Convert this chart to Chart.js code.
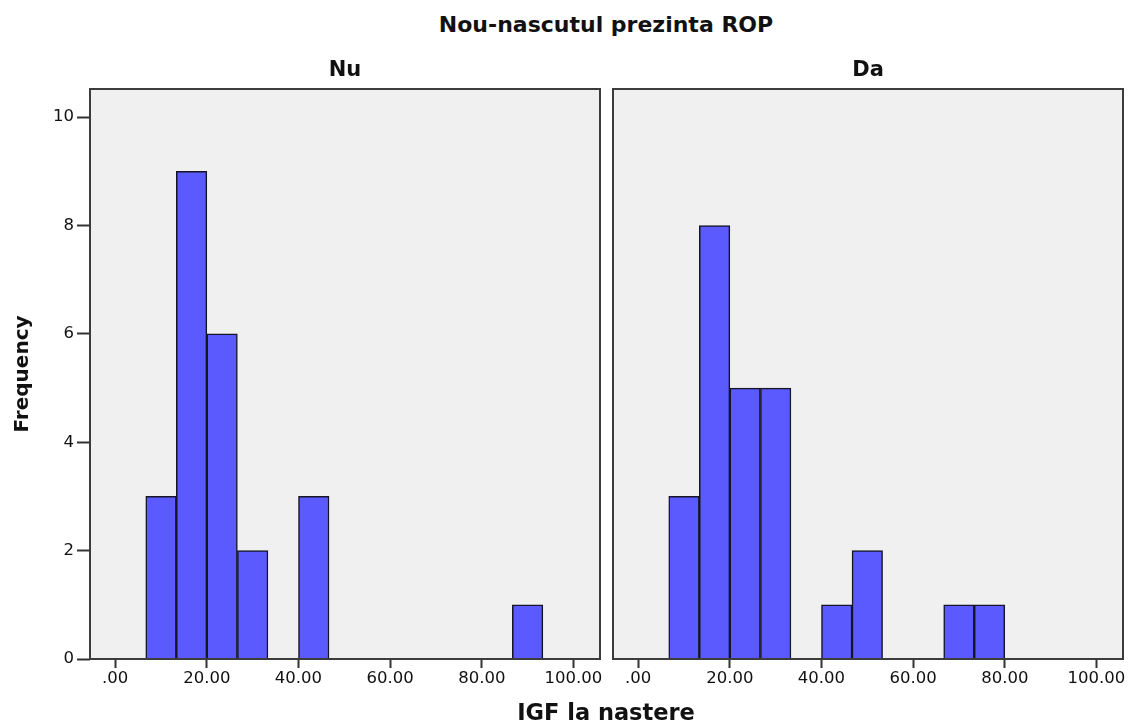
<!DOCTYPE html>
<html>
<head>
<meta charset="utf-8">
<script src="https://cdn.jsdelivr.net/npm/chart.js@4.4.1/dist/chart.umd.min.js"></script>
<style>
  html, body { margin: 0; padding: 0; background: #fff; }
  #wrap { position: relative; width: 1130px; height: 722px; overflow: hidden; font-family: "DejaVu Sans", sans-serif; }
  #cL { position: absolute; left: 0; top: 0; }
  #cR { position: absolute; left: 606px; top: 0; }
  .t { position: absolute; left: 606px; transform: translateX(-50%); font-weight: bold; color: #111; white-space: nowrap; }
  #mainTitle { top: 11px; font-size: 22px; line-height: 28px; }
  #xTitle { top: 698px; font-size: 22.5px; line-height: 28px; }
</style>
</head>
<body>
<div id="wrap">
  <div id="mainTitle" class="t">Nou-nascutul prezinta ROP</div>
  <canvas id="cL" width="606" height="722"></canvas>
  <canvas id="cR" width="524" height="722"></canvas>
  <div id="xTitle" class="t">IGF la nastere</div>
</div>
<script>
// ---- data ----
const binCenters = [10.00, 16.67, 23.33, 30.00, 36.67, 43.33, 50.00, 56.67, 63.33, 70.00, 76.67, 83.33, 90.00];
const countsNu   = [3, 9, 6, 2, 0, 3, 0, 0, 0, 0, 0, 0, 1];
const countsDa   = [3, 8, 5, 5, 0, 1, 2, 0, 0, 1, 1, 0, 0];
const xTickValues = [0, 20, 40, 60, 80, 100];
const xTickLabels = ['.00', '20.00', '40.00', '60.00', '80.00', '100.00'];
const yTickValues = [0, 2, 4, 6, 8, 10];
const yTickLabels = ['0', '2', '4', '6', '8', '10'];
const panelTitles = ['Nu', 'Da'];
const yAxisTitle = 'Frequency';

const FONT = 'DejaVu Sans';

const panelPlugin = {
  id: 'panel',
  beforeDraw(chart) {
    const { ctx, chartArea: a } = chart;
    ctx.save();
    ctx.fillStyle = '#f0f0f0';
    ctx.fillRect(a.left, a.top, a.right - a.left, a.bottom - a.top);
    ctx.restore();
  },
  afterDraw(chart) {
    const { ctx, chartArea: a } = chart;
    ctx.save();
    ctx.strokeStyle = '#3c3c3c';
    ctx.lineWidth = 2;
    ctx.strokeRect(a.left, a.top, a.right - a.left, a.bottom - a.top);
    ctx.restore();
  }
};

function makeConfig(counts, title, showY, padL, padR) {
  return {
    type: 'bar',
    data: {
      datasets: [{
        data: binCenters.map((c, i) => ({ x: c, y: counts[i] })),
        backgroundColor: '#5a5aff',
        borderColor: '#151525',
        borderWidth: 1.5,
        borderSkipped: 'start',
        categoryPercentage: 1,
        barPercentage: 1
      }]
    },
    options: {
      responsive: false,
      animation: false,
      devicePixelRatio: 1,
      layout: { padding: { left: padL, right: padR, top: 0, bottom: 0 } },
      plugins: {
        legend: { display: false },
        tooltip: { enabled: false },
        title: {
          display: true, text: title, fullSize: false, color: '#111',
          font: { family: FONT, size: 21, weight: 'bold', lineHeight: 1.2 },
          padding: { top: 58, bottom: 5.8 }
        }
      },
      scales: {
        x: {
          type: 'linear', min: -5.5, max: 105.8, offset: false,
          afterBuildTicks: s => { s.ticks = xTickValues.map(v => ({ value: v })); },
          afterFit: s => { s.height = 63; },
          grid: { display: true, offset: false, drawOnChartArea: false, drawTicks: true, tickLength: 9, tickWidth: 2, tickColor: '#333' },
          border: { display: false },
          ticks: {
            padding: 1, color: '#111', maxRotation: 0, autoSkip: false,
            font: { family: FONT, size: 16.5 },
            callback: (v, i) => xTickLabels[i]
          }
        },
        y: {
          display: showY, min: 0, max: 10.52,
          afterBuildTicks: s => { s.ticks = yTickValues.map(v => ({ value: v })); },
          afterFit: s => { s.width = showY ? 90 : 0; },
          grid: { display: true, drawOnChartArea: false, drawTicks: true, tickLength: 13, tickWidth: 2, tickColor: '#333' },
          border: { display: false },
          ticks: {
            padding: 3, color: '#111',
            font: { family: FONT, size: 16.5 },
            callback: (v, i) => yTickLabels[i]
          },
          title: {
            display: true, text: yAxisTitle, color: '#111',
            font: { family: FONT, size: 20, weight: 'bold', lineHeight: 1.2 },
            padding: { top: 11, bottom: 0 }
          }
        }
      }
    },
    plugins: [panelPlugin]
  };
}

new Chart(document.getElementById('cL'), makeConfig(countsNu, panelTitles[0], true, 0, 6));
new Chart(document.getElementById('cR'), makeConfig(countsDa, panelTitles[1], false, 7, 7));
</script>
</body>
</html>
